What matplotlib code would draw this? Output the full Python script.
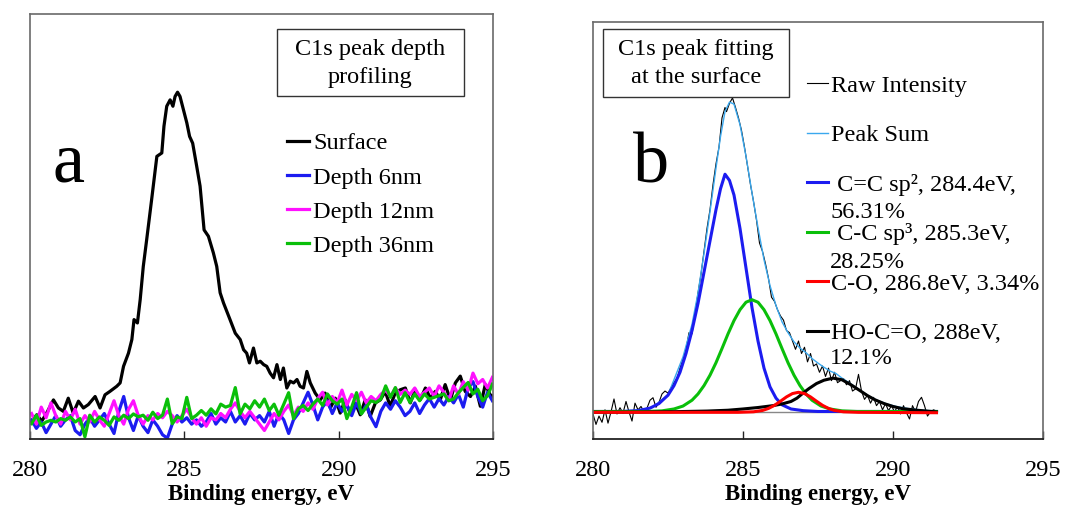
import numpy as np
import matplotlib
matplotlib.use("Agg")
import matplotlib.pyplot as plt
from matplotlib.patches import Rectangle

plt.rcParams['font.family'] = ['Liberation Serif', 'DejaVu Serif']

# ---------------- Panel a data (y = % of plot height) ----------------
surface_x = [280.02, 280.22, 280.38, 280.54, 280.76, 280.92, 281.08, 281.24, 281.40, 281.57,
             281.73, 281.89, 282.11, 282.27, 282.43, 282.59, 282.81, 282.92, 283.03, 283.19,
             283.30, 283.37, 283.48, 283.57, 283.67, 283.78, 283.94, 284.11, 284.27, 284.34,
             284.43, 284.54, 284.63, 284.70, 284.78, 284.86, 284.97, 285.08, 285.17, 285.27,
             285.40, 285.51, 285.64, 285.78, 285.94, 286.05, 286.16, 286.27, 286.48, 286.65,
             286.81, 286.92, 287.02, 287.11, 287.24, 287.35, 287.46, 287.57, 287.67, 287.78,
             287.89, 288.00, 288.11, 288.21, 288.32, 288.43, 288.54, 288.65, 288.75, 288.86,
             288.97, 289.08, 289.24, 289.40, 289.56, 289.73, 289.89, 290.05, 290.21, 290.37,
             290.54, 290.70, 290.86, 291.02, 291.19, 291.35, 291.51, 291.67, 291.83, 292.00,
             292.16, 292.32, 292.48, 292.64, 292.81, 292.97, 293.13, 293.29, 293.45, 293.62,
             293.78, 293.94, 294.10, 294.27, 294.43, 294.59, 294.75, 294.91, 295.00]
surface_y = [3.8, 5.7, 4.2, 6.1, 9.2, 7.3, 6.5, 9.6, 6.1, 8.9,
             7.3, 8.1, 10.0, 7.3, 10.4, 11.2, 12.4, 13.2, 17.1, 20.2,
             23.4, 28.1, 27.3, 32.8, 40.6, 46.9, 56.3, 66.5, 67.3, 73.6,
             78.3, 79.8, 78.3, 80.6, 81.6, 80.6, 77.5, 74.4, 71.2, 69.6,
             64.2, 59.5, 49.2, 47.7, 43.8, 40.6, 34.4, 32.0, 28.1, 24.9,
             23.4, 21.0, 20.2, 17.9, 21.4, 17.9, 18.3, 17.5, 17.1, 15.5,
             14.4, 17.5, 14.0, 16.7, 12.0, 13.6, 13.2, 14.0, 12.4, 12.0,
             15.9, 13.2, 10.8, 9.2, 10.8, 7.3, 9.6, 6.1, 9.2, 6.1,
             8.5, 5.7, 9.2, 5.3, 8.5, 9.2, 11.2, 7.7, 10.8, 11.6,
             12.0, 8.5, 11.6, 9.2, 12.0, 9.6, 11.2, 9.2, 12.8, 9.2,
             13.2, 14.8, 11.2, 10.0, 12.4, 7.7, 12.8, 10.4, 10.0]

# energy grid of the depth spectra (0.157 eV step)
depth_x = np.linspace(280.05, 294.98, 96)
depth6_y = [4.5, 2.5, 4.0, 1.5, 3.5, 5.5, 3.0, 4.5, 5.5, 2.0,
            1.0, 3.5, 5.0, 3.0, 4.5, 6.0, 3.5, 1.3, 6.5, 10.0,
            5.0, 2.0, 5.5, 3.0, 1.5, 4.5, 3.0, 1.0, 0.2, 3.5,
            5.5, 4.0, 5.0, 3.5, 4.5, 3.0, 4.0, 6.0, 3.5, 5.0,
            4.0, 6.5, 4.0, 5.5, 3.5, 6.0, 4.5, 5.5, 4.0, 6.5,
            3.0, 6.0, 4.5, 1.3, 4.5, 6.0, 8.5, 11.0, 8.0, 4.5,
            7.5, 9.0, 6.0, 8.5, 6.5, 8.0, 5.5, 8.5, 6.0, 8.0,
            5.0, 2.9, 6.5, 8.5, 7.0, 9.0, 7.5, 5.5, 6.5, 8.5,
            6.0, 8.0, 9.5, 7.5, 9.5, 8.0, 10.0, 8.5, 10.5, 7.5,
            12.0, 13.5, 10.0, 7.5, 11.0, 9.0]
depth12_y = [6.0, 3.5, 7.5, 5.0, 8.5, 5.5, 3.5, 6.5, 4.5, 7.0,
             3.5, 5.5, 4.0, 6.5, 4.5, 3.0, 6.0, 9.0, 5.5, 3.5,
             7.0, 9.0, 5.5, 3.5, 5.5, 4.5, 6.0, 5.0, 6.5, 5.5,
             4.0, 5.5, 7.0, 5.0, 3.5, 5.0, 3.0, 5.0, 4.5, 6.0,
             5.0, 7.0, 8.5, 6.5, 5.0, 6.5, 5.0, 3.5, 2.0, 4.0,
             6.0, 4.5, 6.5, 8.0, 5.5, 7.5, 6.5, 8.5, 7.0, 9.5,
             11.0, 8.0, 10.0, 8.5, 11.5, 8.0, 10.5, 9.0, 11.0, 8.5,
             10.0, 9.0, 10.5, 11.5, 10.0, 12.0, 10.5, 11.5, 10.5, 12.0,
             10.0, 11.0, 12.0, 10.0, 12.5, 11.0, 9.0, 12.5, 10.5, 13.5,
             11.5, 15.5, 13.0, 14.0, 12.0, 14.5]
depth36_y = [3.6, 5.6, 3.2, 4.0, 4.4, 4.0, 4.8, 4.4, 5.2, 4.0,
             4.8, 0.5, 5.6, 4.0, 5.2, 4.4, 3.2, 5.2, 4.4, 5.6,
             4.8, 5.9, 5.2, 5.6, 4.4, 6.3, 4.8, 5.6, 9.4, 3.6,
             5.2, 4.8, 9.8, 4.8, 5.6, 6.7, 5.6, 7.1, 5.9, 8.2,
             7.5, 7.9, 12.1, 5.9, 8.2, 7.1, 9.0, 7.5, 9.4, 6.7,
             8.2, 5.6, 8.2, 10.9, 4.8, 7.1, 7.9, 6.7, 8.2, 9.4,
             7.9, 10.6, 9.0, 8.2, 9.4, 4.8, 7.5, 10.9, 5.9, 7.5,
             9.0, 8.6, 9.4, 12.5, 9.8, 12.1, 8.6, 10.9, 8.6, 10.6,
             9.0, 10.6, 9.4, 9.8, 10.2, 10.6, 9.0, 9.4, 10.9, 12.1,
             13.3, 10.6, 11.7, 9.0, 10.2, 12.9]

series_a = ["Surface", "Depth 6nm", "Depth 12nm", "Depth 36nm"]
colors_a = ["#000000", "#1c1cf0", "#ff10ff", "#0abf0a"]

# ---------------- Panel b data ----------------
raw_x = [280.00, 280.10, 280.20, 280.30, 280.40, 280.50, 280.60, 280.70, 280.80, 280.90,
         281.00, 281.10, 281.20, 281.30, 281.40, 281.50, 281.60, 281.70, 281.80, 281.90,
         282.00, 282.10, 282.20, 282.30, 282.40, 282.50, 282.60, 282.70, 282.80, 282.90,
         283.00, 283.10, 283.20, 283.30, 283.40, 283.50, 283.60, 283.70, 283.80, 283.90,
         284.00, 284.10, 284.20, 284.30, 284.40, 284.45, 284.55, 284.65, 284.75, 284.85,
         284.95, 285.05, 285.15, 285.25, 285.35, 285.45, 285.55, 285.65, 285.75, 285.85,
         285.95, 286.05, 286.15, 286.25, 286.35, 286.45, 286.55, 286.65, 286.75, 286.85,
         286.95, 287.05, 287.15, 287.25, 287.35, 287.45, 287.55, 287.65, 287.75, 287.85,
         287.95, 288.05, 288.15, 288.25, 288.35, 288.45, 288.55, 288.65, 288.75, 288.85,
         288.95, 289.05, 289.15, 289.25, 289.35, 289.45, 289.55, 289.65, 289.75, 289.85,
         289.95, 290.05, 290.15, 290.25, 290.35, 290.45, 290.55, 290.65, 290.75, 290.85,
         290.95, 291.05, 291.15, 291.25, 291.35, 291.45]
raw_y = [6.0, 3.5, 5.5, 4.0, 7.0, 3.8, 6.5, 9.6, 6.0, 7.5,
         6.2, 9.0, 6.5, 4.3, 8.6, 7.0, 7.8, 6.6, 7.4, 9.3,
         9.9, 7.6, 8.8, 10.8, 11.5, 11.0, 12.3, 13.5, 14.5, 17.0,
         19.0, 21.5, 25.5, 25.2, 30.0, 35.0, 39.5, 45.0, 50.5, 55.0,
         61.0, 66.0, 70.0, 77.0, 79.5, 78.5, 80.5, 81.8, 79.5, 77.0,
         74.0, 70.0, 65.5, 61.0, 57.0, 52.5, 47.0, 45.0, 42.0, 38.5,
         34.0, 33.0, 31.0, 29.5, 28.5, 26.0, 25.5, 23.5, 21.5, 23.5,
         20.5, 22.0, 18.5, 20.5, 17.5, 18.0, 16.0, 17.5, 15.0, 17.0,
         14.0, 16.0, 13.5, 14.0, 14.5, 13.0, 14.0, 11.5, 12.0, 15.5,
         11.5, 9.5, 10.5, 8.6, 10.0, 8.0, 9.0, 7.0, 8.5, 6.8,
         8.0, 6.5, 7.8, 6.0, 8.0, 6.3, 4.8, 8.0, 6.5, 9.0,
         10.0, 8.0, 5.5, 6.5, 7.0, 6.7]

sum_x = [280.0, 281.5, 282.0, 282.5, 283.0, 283.3, 283.5, 283.7, 283.9, 284.1,
         284.25, 284.4, 284.55, 284.7, 284.9, 285.1, 285.3, 285.5, 285.7, 285.9,
         286.1, 286.3, 286.5, 286.7, 286.9, 287.1, 287.3, 287.5, 287.7, 287.9,
         288.1, 288.3, 288.6, 288.9, 289.2, 289.5, 289.8, 290.1, 290.5, 291.0, 291.45]
sum_y = [6.6, 6.9, 7.7, 10.6, 19.7, 27.5, 35.0, 44.5, 54.5, 65.0,
         72.5, 78.5, 80.8, 80.3, 75.4, 67.8, 59.0, 50.7, 43.0, 36.8,
         32.0, 28.1, 25.5, 23.3, 21.8, 20.7, 19.3, 18.2, 17.2, 16.3,
         15.7, 14.6, 13.2, 11.7, 10.3, 9.2, 8.4, 7.8, 7.3, 6.9, 6.6]

background_x = [280.0, 291.45]
background_y = [6.5, 6.5]

sp2_x = [280.0, 281.0, 281.5, 281.9, 282.2, 282.5, 282.7, 282.9, 283.1, 283.3,
         283.5, 283.7, 283.9, 284.1, 284.25, 284.4, 284.55, 284.7, 284.9, 285.1,
         285.3, 285.5, 285.7, 285.9, 286.1, 286.3, 286.6, 287.0, 287.5, 291.45]
sp2_y = [6.6, 6.6, 6.8, 7.4, 8.5, 10.5, 12.8, 16.0, 20.5, 26.0,
         32.5, 40.0, 47.5, 55.0, 60.0, 63.5, 62.0, 58.5, 50.5, 41.0,
         31.5, 23.5, 17.0, 12.5, 9.8, 8.2, 7.2, 6.8, 6.6, 6.6]

sp3_x = [280.0, 281.8, 282.3, 282.7, 283.0, 283.3, 283.5, 283.7, 283.9, 284.1,
         284.3, 284.5, 284.7, 284.9, 285.1, 285.3, 285.5, 285.7, 285.9, 286.1,
         286.3, 286.5, 286.7, 286.9, 287.1, 287.3, 287.6, 287.9, 288.3, 288.8, 291.45]
sp3_y = [6.6, 6.6, 6.75, 7.2, 7.9, 9.3, 10.8, 12.8, 15.3, 18.3,
         21.7, 25.2, 28.4, 31.0, 32.8, 33.4, 32.8, 31.0, 28.4, 25.2,
         21.7, 18.3, 15.3, 12.8, 10.8, 9.3, 7.9, 7.2, 6.75, 6.6, 6.6]

co_x = [280.0, 284.85, 285.35, 285.65, 285.85, 286.05, 286.25, 286.45, 286.65, 286.85,
        287.05, 287.25, 287.45, 287.65, 287.85, 288.05, 288.35, 288.85, 291.45]
co_y = [6.4, 6.4, 6.52, 6.85, 7.33, 8.08, 9.06, 10.1, 10.9, 11.2,
        10.9, 10.1, 9.06, 8.08, 7.33, 6.85, 6.52, 6.4, 6.3]

cooh_x = [280.0, 281.5, 282.7, 283.8, 284.5, 285.0, 285.5, 286.0, 286.3, 286.6,
          286.8, 287.0, 287.2, 287.45, 287.7, 288.0, 288.3, 288.6, 288.9, 289.15,
          289.4, 289.7, 290.0, 290.3, 290.8, 291.45]
cooh_y = [6.4, 6.45, 6.55, 6.7, 6.9, 7.2, 7.55, 8.0, 8.4, 9.0,
          9.8, 11.0, 12.1, 13.3, 14.1, 14.6, 14.2, 13.0, 11.6, 10.4,
          9.4, 8.5, 7.8, 7.3, 6.9, 6.5]

labels_b = ["Raw Intensity", "Peak Sum", " C=C sp\u00b2, 284.4eV,", " C-C sp\u00b3, 285.3eV,",
            "C-O, 286.8eV, 3.34%", "HO-C=O, 288eV,"]
second_lines_b = ["56.31%", "28.25%", "12.1%"]
colors_b = ["#000000", "#3aa8ee", "#1c1cf0", "#0abf0a", "#ff0000", "#000000"]

xticks = [280, 285, 290, 295]
xlabel = "Binding energy, eV"
title_a = "C1s peak depth\nprofiling"
title_b = "C1s peak fitting\nat the surface"

# ---------------- Figure ----------------
W, H = 1087, 507
fig = plt.figure(figsize=(W / 100, H / 100), dpi=100)
ax_a = fig.add_axes([30 / W, (H - 439) / H, 463 / W, 425 / H])
ax_b = fig.add_axes([593 / W, (H - 439) / H, 450 / W, 417 / H])

FS = 17.5


def style(ax):
    ax.set_xlim(280, 295)
    ax.set_ylim(0, 100)
    ax.set_xticks(xticks)
    ax.set_xticklabels([str(t) for t in xticks], fontsize=FS)
    ax.set_yticks([])
    ax.tick_params(axis='x', direction='in', length=6, width=1.0, pad=15, colors='#222222',
                   labelcolor='black')
    for s in ['left', 'top', 'right']:
        ax.spines[s].set_color('#6a6a6a')
        ax.spines[s].set_linewidth(1.2)
    ax.spines['bottom'].set_color('#222222')
    ax.spines['bottom'].set_linewidth(1.3)
    ax.set_xlabel(xlabel, fontsize=16.5, fontweight='bold', labelpad=2.5)


style(ax_a)
style(ax_b)

# Panel a curves
la = []
for xs, ys, c, lab in [(surface_x, surface_y, colors_a[0], series_a[0]),
                       (depth_x, depth6_y, colors_a[1], series_a[1]),
                       (depth_x, depth12_y, colors_a[2], series_a[2]),
                       (depth_x, depth36_y, colors_a[3], series_a[3])]:
    l, = ax_a.plot(xs, ys, color=c, lw=2.3, label=lab, solid_joinstyle='round')
    la.append(l)

leg_a = ax_a.legend(handles=la, loc='center left', bbox_to_anchor=(0.555, 0.575),
                    frameon=False, fontsize=FS, handlelength=0.9, handletextpad=0.17,
                    labelspacing=0.5, borderpad=0, borderaxespad=0)

ax_a.add_patch(Rectangle((0.533, 0.807), 0.404, 0.158, transform=ax_a.transAxes,
                         fill=True, fc='white', ec='#333333', lw=1.0, zorder=5))
ax_a.text(0.735, 0.884, title_a, transform=ax_a.transAxes, ha='center', va='center',
          fontsize=FS, linespacing=1.4, zorder=6)
ax_a.text(0.084, 0.605, "a", transform=ax_a.transAxes, ha='center', va='baseline',
          fontsize=52)

# Panel b curves
ax_b.plot(background_x, background_y, color='#888888', lw=1.0)
l_raw, = ax_b.plot(raw_x, raw_y, color=colors_b[0], lw=0.8)
l_sum, = ax_b.plot(sum_x, sum_y, color=colors_b[1], lw=1.0)
l_sp2, = ax_b.plot(sp2_x, sp2_y, color=colors_b[2], lw=2.2)
l_sp3, = ax_b.plot(sp3_x, sp3_y, color=colors_b[3], lw=2.2)
l_cooh, = ax_b.plot(cooh_x, cooh_y, color=colors_b[5], lw=2.2)
l_co, = ax_b.plot(co_x, co_y, color=colors_b[4], lw=2.2)

leg_b = ax_b.legend(handles=[l_raw, l_sum, l_sp2, l_sp3, l_co, l_cooh], labels=labels_b,
                    loc='center left', bbox_to_anchor=(0.476, 0.550),
                    frameon=False, fontsize=FS, handlelength=0.85, handletextpad=0.13,
                    labelspacing=1.13, borderpad=0, borderaxespad=0)

for txt, yy in zip(second_lines_b, [0.542, 0.424, 0.194]):
    ax_b.text(0.527, yy, txt, transform=ax_b.transAxes, ha='left', va='center', fontsize=FS)

ax_b.add_patch(Rectangle((0.022, 0.820), 0.414, 0.163, transform=ax_b.transAxes,
                         fill=True, fc='white', ec='#333333', lw=1.0, zorder=5))
ax_b.text(0.229, 0.900, title_b, transform=ax_b.transAxes, ha='center', va='center',
          fontsize=FS, linespacing=1.4, zorder=6)
ax_b.text(0.129, 0.616, "b", transform=ax_b.transAxes, ha='center', va='baseline',
          fontsize=52)

fig.savefig("out.png", dpi=100)
